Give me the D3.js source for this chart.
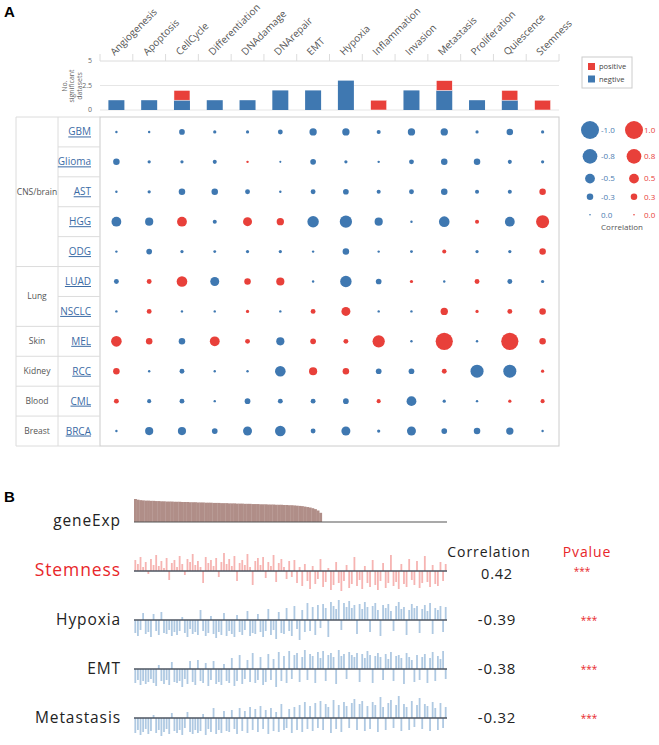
<!DOCTYPE html>
<html>
<head>
<meta charset="utf-8">
<script src="https://cdn.jsdelivr.net/npm/d3@7"></script>
<style>
  body { margin: 0; background: #fff; }
  svg { display: block; font-family: "Open Sans", sans-serif; }
</style>
</head>
<body>
<div id="chart"></div>
<script>
// ---- panel A data ----
var processes = ["Angiogenesis", "Apoptosis", "CellCycle", "Differentiation", "DNAdamage", "DNArepair", "EMT",
  "Hypoxia", "Inflammation", "Invasion", "Metastasis", "Proliferation", "Quiescence", "Stemness"];
var negCounts = [1, 1, 1, 1, 1, 2, 2, 3, 0, 2, 2, 1, 1, 0];
var posCounts = [0, 0, 1, 0, 0, 0, 0, 0, 1, 0, 1, 0, 1, 1];
var barTicks = [0, 2.5, 5];

var cancers = ["GBM", "Glioma", "AST", "HGG", "ODG", "LUAD", "NSCLC", "MEL", "RCC", "CML", "BRCA"];
var tissues = ["CNS/brain", "Lung", "Skin", "Kidney", "Blood", "Breast"];
var tissueSpan = [5, 2, 1, 1, 1, 1];

// correlation per cancer (rows) x process (columns)
var corrValues = [
  [-0.05, -0.05, -0.25, -0.10, -0.10, -0.20, -0.35, -0.35, -0.15, -0.35, -0.35, -0.10, -0.30, -0.10],
  [-0.30, -0.10, -0.10, -0.15, 0.05, -0.03, -0.25, -0.10, -0.05, -0.20, -0.30, -0.30, -0.15, -0.10],
  [-0.05, -0.10, -0.30, -0.30, -0.20, -0.05, -0.20, -0.25, -0.15, -0.20, -0.30, -0.15, -0.15, 0.30],
  [-0.50, -0.40, 0.50, -0.15, 0.45, 0.35, -0.60, -0.65, -0.40, -0.05, -0.55, 0.15, -0.50, 0.70],
  [-0.05, -0.25, -0.10, -0.08, -0.10, -0.10, -0.05, -0.30, -0.05, -0.08, 0.15, -0.10, -0.10, 0.30],
  [-0.20, 0.20, 0.55, -0.45, 0.30, 0.40, -0.05, -0.60, -0.25, 0.10, -0.05, 0.20, -0.20, -0.10],
  [-0.05, 0.20, -0.05, -0.05, 0.10, -0.05, 0.20, 0.45, -0.05, -0.05, 0.35, 0.10, 0.20, 0.30],
  [0.55, 0.30, -0.30, 0.50, 0.20, -0.40, 0.25, 0.20, 0.65, -0.05, 0.95, -0.05, 0.95, 0.30],
  [0.30, -0.05, -0.20, -0.05, -0.05, -0.55, 0.40, 0.30, -0.25, -0.25, 0.20, -0.70, -0.70, 0.10],
  [0.20, -0.15, -0.20, -0.05, -0.25, -0.20, -0.20, -0.25, 0.15, -0.50, -0.10, -0.05, 0.10, 0.15],
  [-0.05, -0.40, -0.40, -0.25, -0.45, -0.55, -0.20, -0.45, -0.10, -0.45, -0.25, -0.30, -0.35, -0.05]
];
var legendCorr = [1.0, 0.8, 0.5, 0.3, 0.0];

// ---- panel B data (samples ordered by gene expression) ----
var geneExp = [
  1.00, 0.97, 0.95, 0.94, 0.93, 0.93, 0.92, 0.92, 0.91, 0.91, 0.90, 0.90,
  0.89, 0.89, 0.89, 0.88, 0.88, 0.88, 0.87, 0.87, 0.87, 0.86, 0.86, 0.86,
  0.85, 0.85, 0.85, 0.84, 0.84, 0.84, 0.83, 0.83, 0.83, 0.82, 0.82, 0.82,
  0.81, 0.81, 0.81, 0.80, 0.80, 0.80, 0.79, 0.79, 0.79, 0.78, 0.78, 0.78,
  0.77, 0.77, 0.77, 0.76, 0.76, 0.76, 0.75, 0.75, 0.75, 0.74, 0.74, 0.73,
  0.73, 0.72, 0.71, 0.70, 0.69, 0.67, 0.65, 0.63, 0.60, 0.56, 0.50, 0.40,
  0, 0, 0, 0, 0, 0, 0, 0, 0, 0, 0, 0,
  0, 0, 0, 0, 0, 0, 0, 0, 0, 0, 0, 0,
  0, 0, 0, 0, 0, 0, 0, 0, 0, 0, 0, 0,
  0, 0, 0, 0, 0, 0, 0, 0, 0, 0, 0, 0
];
var stemness = [
  0.55, 0.35, 0.70, 0.20, 0.45, -0.15, 0.60, 0.30, 0.80, 0.25, 0.50, 0.15,
  0.65, -0.45, 0.40, 0.55, 0.20, 0.75, 0.35, -0.20, 0.60, 0.45, 0.85, 0.30,
  0.50, 0.20, -0.60, 0.70, 0.40, 0.55, 0.25, 0.65, -0.30, 0.45, 0.90, 0.35,
  0.60, 0.25, 0.75, -0.50, 0.40, 0.55, 0.30, 0.85, 0.20, -0.70, 0.50, 0.65,
  0.30, 0.70, -0.35, 0.45, 0.25, 0.80, -0.55, 0.40, 0.60, 0.20, -0.40, 0.50,
  -0.30, 0.55, -0.60, 0.20, -0.75, 0.35, -0.50, -0.90, 0.25, -0.65, -0.40, 0.60,
  -0.80, -0.55, 0.15, -0.95, -0.70, 0.45, -0.60, -1.00, -0.50, 0.30, -0.85, -0.65,
  0.70, -0.75, -0.45, -0.90, 0.25, -0.60, -0.80, 0.55, -0.70, -0.95, -0.50, 0.40,
  -0.85, -0.60, 0.80, -0.75, -0.55, -0.90, 0.35, -0.65, -0.80, 0.60, -0.45, -0.70,
  0.50, -0.85, -0.60, 0.75, -0.55, -0.80, 0.30, -0.65, -0.75, 0.45, -0.50, 0.35
];
var hypoxia = [
  -0.65, -0.80, -0.50, 0.35, -0.70, -0.60, -0.85, 0.30, -0.55, -0.75, 0.40, -0.65,
  -0.70, -0.50, -0.80, -0.60, -0.75, -0.55, 0.15, -0.65, -0.85, -0.45, -0.70, -0.60,
  -0.75, 0.50, -0.55, -0.80, -0.65, 0.20, -0.70, -0.90, -0.60, -0.75, 0.35, -0.80,
  -0.55, -0.70, -0.85, 0.25, -0.60, -0.75, -0.50, 0.45, -0.80, -0.65, -0.70, 0.30,
  -0.60, -0.85, -0.55, 0.55, -0.75, -0.50, -0.95, 0.40, -0.65, -0.70, 0.60, -0.55,
  -0.80, 0.70, -0.45, -1.00, 0.50, -0.60, 0.85, -0.55, 0.65, -0.75, 0.75, -0.40,
  0.80, 0.60, -0.85, 0.90, 0.70, 0.55, 1.00, -0.50, 0.85, 0.65, 0.95, 0.60,
  0.75, -0.70, 0.80, 0.55, 0.90, 0.65, -0.60, 0.70, 0.85, 0.50, -0.80, 0.75,
  0.60, 0.80, 0.45, -0.55, 0.70, 0.90, 0.55, 0.65, -0.75, 0.50, 0.80, 0.60,
  0.70, -0.65, 0.55, 0.75, 0.45, 0.85, -0.70, 0.60, 0.50, 0.70, -0.60, 0.65
];
var emt = [
  -0.70, -0.55, -0.80, -0.60, -0.75, -0.65, -0.50, -0.70, -0.85, 0.20, -0.60, -0.75,
  -0.55, -0.80, 0.35, -0.65, -0.70, -0.60, -0.90, -0.50, -0.75, 0.40, -0.65, -0.80,
  0.45, -0.60, -0.70, 0.30, -0.85, -0.55, 0.40, -0.75, -0.65, -0.80, 0.25, -0.60,
  -0.70, 0.55, -0.85, -0.60, 0.70, -0.75, -0.50, 0.45, -0.65, 0.80, -0.70, -0.55,
  0.60, -0.80, -0.65, 0.75, -0.55, 0.50, -0.90, 0.85, -0.60, 0.65, -0.70, 0.90,
  -0.50, 0.70, 0.80, -0.65, 0.60, 0.95, -0.55, 0.75, 0.65, -0.70, 0.85, 0.55,
  0.90, -0.60, 0.70, 0.80, 0.60, -0.75, 0.95, 0.65, 0.75, -0.50, 0.85, 0.70,
  0.60, 0.80, -0.65, 0.75, 0.55, 0.90, 0.70, -0.70, 0.65, 0.80, 0.60, -0.55,
  0.75, 0.50, 0.85, -0.60, 0.65, 0.70, 0.55, -0.75, 0.80, 0.60, 0.45, -0.65,
  0.70, -0.55, 0.60, 0.75, -0.70, 0.55, 0.85, -0.60, 0.65, 0.50, 0.90, -0.50
];
var metastasis = [
  -0.75, -0.60, -0.85, -0.70, -0.55, -0.80, -0.65, 0.15, -0.75, -0.60, -0.90, -0.70,
  -0.55, -0.80, 0.25, -0.65, -0.75, -0.60, -0.85, -0.50, 0.30, -0.70, -0.80, -0.60,
  -0.75, -0.65, 0.20, -0.85, -0.55, -0.70, 0.50, -0.80, -0.60, -0.75, 0.35, -0.65,
  -0.70, 0.40, -0.55, -0.80, 0.50, -0.65, 0.35, -0.75, 0.55, -0.60, 0.45, -0.70,
  0.60, -0.55, 0.40, -0.80, 0.50, -0.65, 0.30, -0.70, 0.70, -0.60, -0.50, 0.45,
  -0.75, 0.55, -0.60, 0.65, -0.70, 0.80, -0.55, 0.60, -0.65, 0.75, -0.50, 0.85,
  -0.60, 0.70, 0.55, -0.75, 0.90, -0.55, 0.65, -0.70, 0.80, 0.60, -0.50, 0.75,
  0.95, -0.60, 0.70, 0.85, -0.65, 0.60, -0.55, 0.80, 0.65, -0.70, 1.05, 0.55,
  -0.60, 0.75, 0.90, -0.50, 0.65, 1.10, -0.65, 0.70, 0.55, -0.60, 0.85, -0.45,
  0.65, 1.00, -0.55, 0.70, 0.60, -0.65, 0.80, 0.50, -0.60, 0.75, -0.50, 0.55
];
var sigNames = ["Stemness", "Hypoxia", "EMT", "Metastasis"];
var sigSeries = [stemness, hypoxia, emt, metastasis];
var sigCorr = ["0.42", "-0.39", "-0.38", "-0.32"];
var sigP = ["***", "***", "***", "***"];

var blue = "#3f78b1", red = "#e8403a", grid = "#dcdcdc";

var svg = d3.select("#chart").append("svg").attr("width", 659).attr("height", 745);

// ================= Panel A =================
svg.append("text").attr("x", 4).attr("y", 17).attr("font-size", 15).attr("font-weight", "bold")
  .attr("font-family", "Arial, Liberation Sans, sans-serif").text("A");

var x = d3.scaleBand().domain(processes).range([100, 559]);
var yBar = d3.scaleLinear().domain([0, 5]).range([110, 61]);
var y = d3.scaleBand().domain(cancers).range([117, 446]);
var rScale = d3.scaleLinear().domain([0, 1]).range([0.8, 9]);

// column header ticks and rotated labels
svg.append("line").attr("x1", 100).attr("x2", 559).attr("y1", 61).attr("y2", 61).attr("stroke", grid);
svg.selectAll(".ctick").data(processes.concat(["end"])).join("line")
  .attr("x1", (d, i) => 100 + i * x.bandwidth()).attr("x2", (d, i) => 100 + i * x.bandwidth())
  .attr("y1", 54).attr("y2", 61).attr("stroke", grid);
svg.selectAll(".clabel").data(processes).join("text")
  .attr("transform", d => `translate(${x(d) + x.bandwidth() / 2 - 2},56) rotate(-45)`)
  .attr("font-size", 10).attr("fill", "#555").text(d => d);

// bar axis
barTicks.forEach(function (t) {
  svg.append("line").attr("x1", 100).attr("x2", 559).attr("y1", yBar(t)).attr("y2", yBar(t))
    .attr("stroke", t === 5 ? "none" : "#e6e6e6");
  svg.append("text").attr("x", 92).attr("y", yBar(t)).attr("dy", "0.35em").attr("text-anchor", "end")
    .attr("font-size", 7).attr("fill", "#666").text(t);
});
var ylab = svg.append("text").attr("transform", "translate(74,86) rotate(-90)")
  .attr("text-anchor", "middle").attr("font-size", 7).attr("fill", "#666");
["No.", "significant", "datasets"].forEach(function (s, i) {
  ylab.append("tspan").attr("x", 0).attr("y", (i - 1) * 7.5).text(s);
});

// stacked bars: negative at bottom, positive on top
var bw = 16;
svg.selectAll(".negbar").data(processes).join("rect")
  .attr("x", d => x(d) + x.bandwidth() / 2 - bw / 2).attr("width", bw)
  .attr("y", (d, i) => yBar(negCounts[i])).attr("height", (d, i) => yBar(0) - yBar(negCounts[i]))
  .attr("fill", blue);
svg.selectAll(".posbar").data(processes).join("rect")
  .attr("x", d => x(d) + x.bandwidth() / 2 - bw / 2).attr("width", bw)
  .attr("y", (d, i) => yBar(negCounts[i] + posCounts[i]))
  .attr("height", (d, i) => yBar(negCounts[i]) - yBar(negCounts[i] + posCounts[i]))
  .attr("fill", red).attr("stroke", "#fff").attr("stroke-width", 0.5);

// bar legend
var bl = svg.append("g").attr("transform", "translate(582,57)");
bl.append("rect").attr("width", 50).attr("height", 31).attr("fill", "#fff").attr("stroke", "#ccc");
[["positive", red], ["negtive", blue]].forEach(function (d, i) {
  bl.append("rect").attr("x", 6).attr("y", 6 + i * 12.5).attr("width", 7).attr("height", 7).attr("fill", d[1]);
  bl.append("text").attr("x", 17).attr("y", 9.5 + i * 12.5).attr("dy", "0.35em")
    .attr("font-size", 7.5).attr("fill", "#444").text(d[0]);
});

// table frame
var tg = svg.append("g").attr("stroke", grid).attr("fill", "none");
tg.append("rect").attr("x", 100).attr("y", 117).attr("width", 459).attr("height", 329)
  .attr("stroke", "#ccc");
tg.append("line").attr("x1", 16).attr("x2", 100).attr("y1", 117).attr("y2", 117);
tg.append("line").attr("x1", 16).attr("x2", 100).attr("y1", 446).attr("y2", 446);
[16, 58].forEach(function (xx) {
  tg.append("line").attr("x1", xx).attr("x2", xx).attr("y1", 117).attr("y2", 446);
});
cancers.slice(1).forEach(function (c) {
  tg.append("line").attr("x1", 58).attr("x2", 100).attr("y1", y(c)).attr("y2", y(c));
});
var start = 0;
tissues.forEach(function (t, i) {
  var y0 = y(cancers[start]), y1 = y0 + tissueSpan[i] * y.bandwidth();
  if (i > 0) tg.append("line").attr("x1", 16).attr("x2", 58).attr("y1", y0).attr("y2", y0);
  svg.append("text").attr("x", 37).attr("y", (y0 + y1) / 2).attr("dy", "0.35em").attr("text-anchor", "middle")
    .attr("font-size", 8.5).attr("fill", "#555").text(t);
  start += tissueSpan[i];
});

svg.selectAll(".rlabel").data(cancers).join("text")
  .attr("x", 91).attr("y", d => y(d) + y.bandwidth() / 2).attr("dy", "0.35em")
  .attr("text-anchor", "end").attr("font-size", 10).attr("fill", "#3b6ba5")
  .style("text-decoration", "underline").text(d => d);

// correlation dots
cancers.forEach(function (c, ri) {
  svg.selectAll(".dot" + ri).data(corrValues[ri]).join("circle")
    .attr("cx", (d, ci) => x(processes[ci]) + x.bandwidth() / 2)
    .attr("cy", y(c) + y.bandwidth() / 2)
    .attr("r", d => rScale(Math.abs(d)))
    .attr("fill", d => d < 0 ? blue : red);
});

// size legend
var ly = 130, prevR = null;
legendCorr.forEach(function (v) {
  var r = rScale(v);
  if (prevR !== null) ly += Math.max(18, prevR + r + 10);
  svg.append("circle").attr("cx", 590).attr("cy", ly).attr("r", r).attr("fill", blue);
  svg.append("circle").attr("cx", 634).attr("cy", ly).attr("r", r).attr("fill", red);
  svg.append("text").attr("x", 601).attr("y", ly).attr("dy", "0.35em").attr("font-size", 8)
    .attr("fill", "#4a7bb0").text((v === 0 ? "" : "-") + v.toFixed(1));
  svg.append("text").attr("x", 644).attr("y", ly).attr("dy", "0.35em").attr("font-size", 8)
    .attr("fill", red).text(v.toFixed(1));
  prevR = r;
});
svg.append("text").attr("x", 622).attr("y", ly + 12).attr("dy", "0.35em").attr("text-anchor", "middle")
  .attr("font-size", 8).attr("fill", "#555").text("Correlation");

// ================= Panel B =================
svg.append("text").attr("x", 4).attr("y", 502).attr("font-size", 15).attr("font-weight", "bold")
  .attr("font-family", "Arial, Liberation Sans, sans-serif").text("B");

var xs = d3.scaleBand().domain(d3.range(geneExp.length)).range([134, 447]);
var base0 = 522, gap = 49;

var yGene = d3.scaleLinear().domain([0, 1]).range([base0, base0 - 23]);
svg.selectAll(".gene").data(geneExp).join("rect")
  .attr("x", (d, i) => xs(i)).attr("width", xs.bandwidth() + 0.3)
  .attr("y", d => yGene(d)).attr("height", d => base0 - yGene(d))
  .attr("fill", "#b08e88");
svg.append("line").attr("x1", 134).attr("x2", 447).attr("y1", base0).attr("y2", base0)
  .attr("stroke", "#555").attr("stroke-width", 1.2);
svg.append("text").attr("x", 121).attr("y", base0 + 4).attr("text-anchor", "end")
  .attr("font-size", 15.5).attr("letter-spacing", 0.9).attr("fill", "#222").text("geneExp");

sigSeries.forEach(function (series, k) {
  var b = base0 + gap * (k + 1);
  var ys = d3.scaleLinear().domain([-1, 1]).range([b + 20, b - 20]);
  var col = k === 0 ? "#ee6a66" : "#5f93c6";
  svg.selectAll(".sig" + k).data(series).join("line")
    .attr("x1", (d, i) => xs(i) + xs.bandwidth() / 2).attr("x2", (d, i) => xs(i) + xs.bandwidth() / 2)
    .attr("y1", ys(0)).attr("y2", d => ys(d))
    .attr("stroke", col).attr("stroke-opacity", 0.5).attr("stroke-width", 1.8);
  svg.append("line").attr("x1", 134).attr("x2", 447).attr("y1", b).attr("y2", b)
    .attr("stroke", "#4d5560").attr("stroke-width", 1.5);
  svg.append("text").attr("x", 121).attr("y", b + 5).attr("text-anchor", "end")
    .attr("font-size", k === 0 ? 17.5 : 15.5).attr("letter-spacing", 0.9)
    .attr("fill", k === 0 ? "#e8262a" : "#222").text(sigNames[k]);
  svg.append("text").attr("x", 497).attr("y", b + (k === 0 ? 8 : 5)).attr("text-anchor", "middle")
    .attr("font-size", k === 0 ? 14.5 : 15).attr("letter-spacing", 0.8).attr("fill", "#222").text(sigCorr[k]);
  svg.append("text").attr("x", k === 0 ? 582 : 589).attr("y", b + 4).attr("text-anchor", "middle")
    .attr("font-size", 10).attr("fill", "#e8262a").text(sigP[k]);
});
svg.append("text").attr("x", 489).attr("y", 557).attr("text-anchor", "middle")
  .attr("font-size", 14).attr("letter-spacing", 0.9).attr("fill", "#222").text("Correlation");
svg.append("text").attr("x", 587).attr("y", 557).attr("text-anchor", "middle")
  .attr("font-size", 14).attr("letter-spacing", 0.9).attr("fill", "#e8262a").text("Pvalue");
</script>
</body>
</html>
